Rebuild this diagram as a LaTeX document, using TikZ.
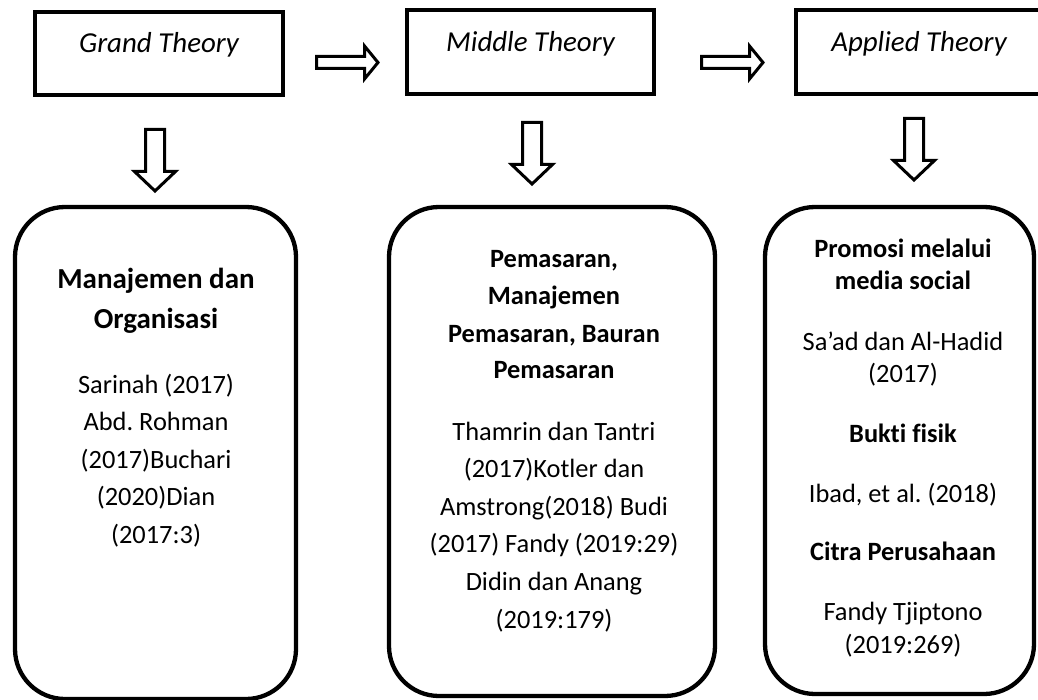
\documentclass[tikz,border=0pt]{standalone}
\usepackage{fontspec}
\setmainfont{Carlito}[Ligatures=NoCommon]
\frenchspacing
\begin{document}
\begin{tikzpicture}[x=1pt,y=-1pt,
  topbox/.style={draw, line width=4pt, inner sep=0pt, anchor=base,
    font=\itshape\fontsize{28.9}{34}\selectfont},
  rbox/.style={draw, line width=4.3pt, rounded corners=50pt, inner sep=0pt},
  body/.style={inner sep=0pt, anchor=base, font=\fontsize{26.4}{32}\selectfont},
  head/.style={inner sep=0pt, anchor=base, font=\bfseries\fontsize{26.4}{32}\selectfont},
  bighead/.style={inner sep=0pt, anchor=base, font=\bfseries\fontsize{29}{36}\selectfont},
  arrowline/.style={draw, line width=3pt, fill=white},
  rarrow/.pic={\draw[arrowline] (0,-6) -- (48,-6) -- (48,-16.5) -- (61.5,0)
      -- (48,16.5) -- (48,6) -- (0,6) -- cycle;},
  darrow/.pic={\draw[arrowline] (-9.5,0) -- (-9.5,42) -- (-20.5,42) -- (0,61.5)
      -- (20.5,42) -- (9.5,42) -- (9.5,0) -- cycle;}
]
\useasboundingbox (0,0) rectangle (1038,700);

% top boxes
\node[topbox, minimum width=248pt, text height=40.5pt, text depth=42.5pt] (gt) at (159,53) {Grand Theory};
\node[topbox, minimum width=247pt, text height=41.5pt, text depth=42.5pt] (mt) at (530.5,52) {Middle Theory};
\node[topbox, minimum width=246pt, text height=41.5pt, text depth=42.5pt] (at) at (919,52) {Applied Theory};

% bottom rounded boxes
\node[rbox, minimum width=281pt, minimum height=492pt] (lb) at (155.5,453) {};
\node[rbox, minimum width=326pt, minimum height=489pt] (mb) at (552,451.5) {};
\node[rbox, minimum width=269pt, minimum height=487pt] (rb) at (899.5,450.5) {};

% block arrows
\pic (ra1) at (316.5,62.5) {rarrow};
\pic (ra2) at (701.5,62.5) {rarrow};
\pic (da1) at (155,129.5) {darrow};
\pic (da2) at (532,122.5) {darrow};
\pic (da3) at (914,118.5) {darrow};

% left box text
\node[bighead] (l1) at (156,289) {Manajemen dan};
\node[bighead] (l2) at (156,328) {Organisasi};
\foreach \yy/\tt [count=\i] in {393/{Sarinah (2017)}, 430.5/{Abd. Rohman}, 468/{(2017)Buchari}, 505.5/{(2020)Dian}, 543/{(2017:3)}}
  \node[body] (lt\i) at (156,\yy) {\tt};

% middle box text
\foreach \yy/\tt [count=\i] in {268/{Pemasaran,}, 305/{Manajemen}, 342/{Pemasaran, Bauran}, 378.5/{Pemasaran}}
  \node[head] (mh\i) at (554,\yy) {\tt};
\foreach \yy/\tt [count=\i] in {440/{Thamrin dan Tantri}, 477.6/{(2017)Kotler dan}, 515.2/{Amstrong(2018) Budi}, 552.8/{(2017) Fandy (2019:29)}, 590.4/{Didin dan Anang}, 628/{(2019:179)}}
  \node[body] (mt\i) at (554,\yy) {\tt};

% right box text
\node[head] (r1) at (903,258) {Promosi melalui};
\node[head] (r2) at (903,290) {media social};
\node[body] (r3) at (903,350) {Sa’ad dan Al-Hadid};
\node[body] (r4) at (903,382) {(2017)};
\node[head] (r5) at (903,442) {Bukti fisik};
\node[body] (r6) at (903,502) {Ibad, et al. (2018)};
\node[head] (r7) at (903,560) {Citra Perusahaan};
\node[body] (r8) at (903,620) {Fandy Tjiptono};
\node[body] (r9) at (903,653) {(2019:269)};
\end{tikzpicture}
\end{document}
